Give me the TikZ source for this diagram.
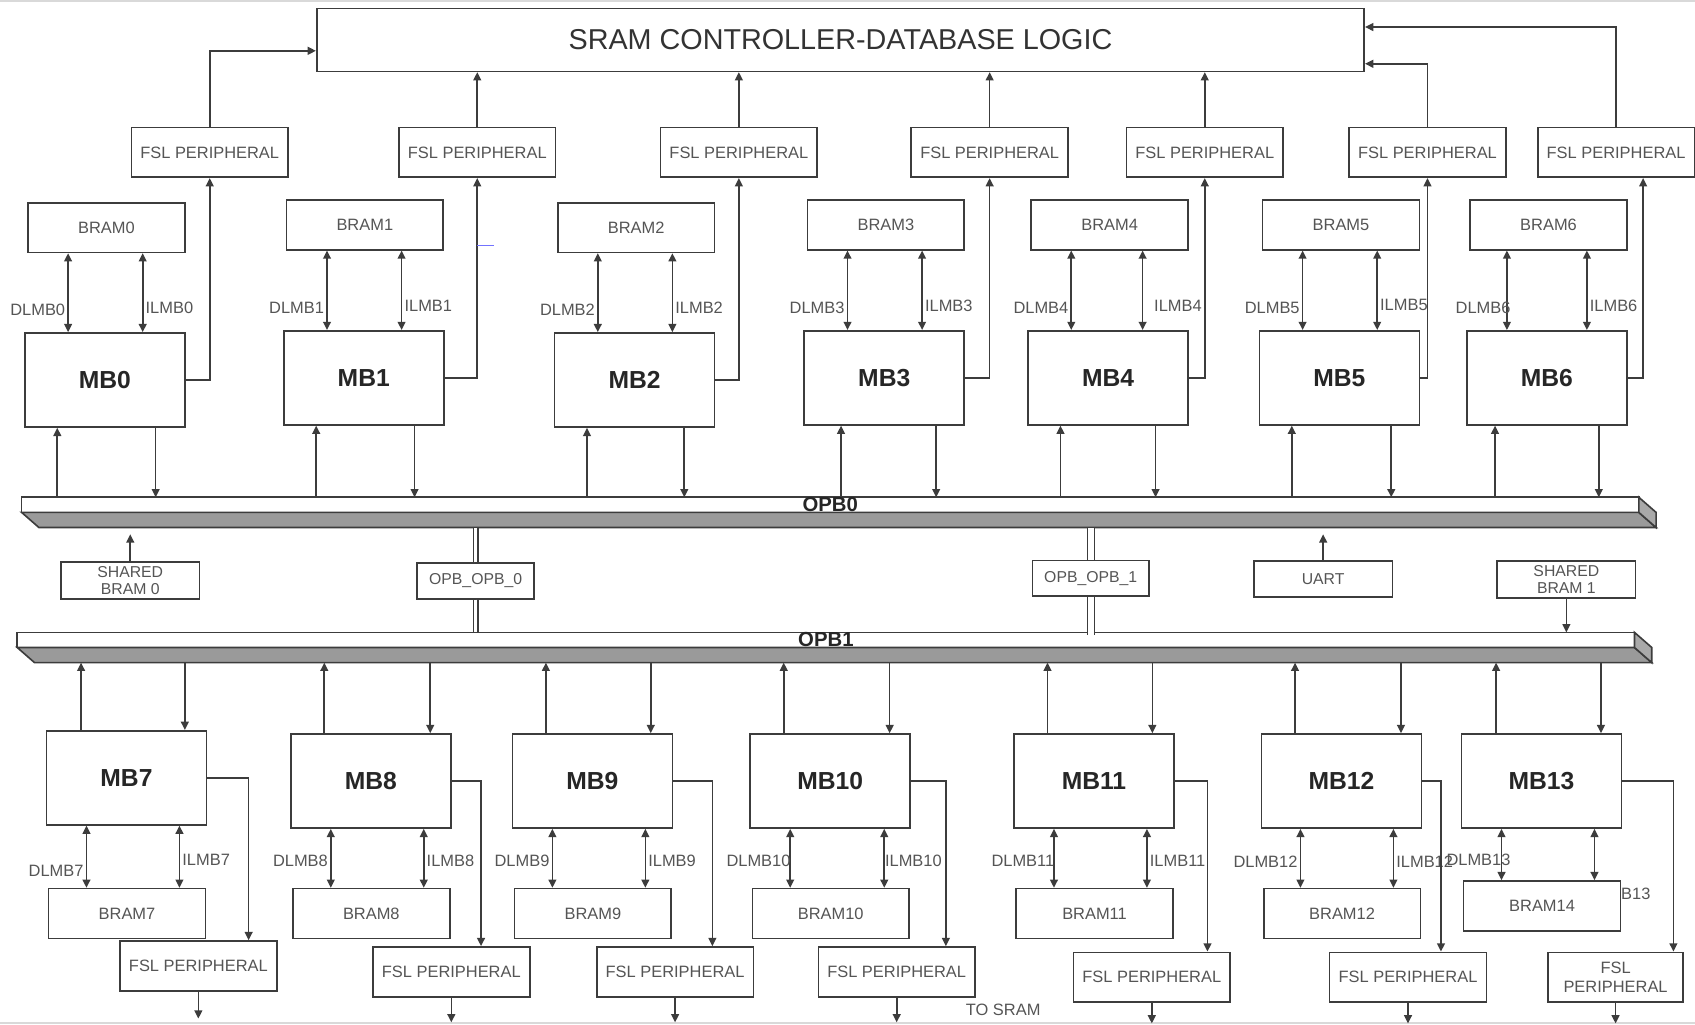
\documentclass[tikz,border=0pt]{standalone}
\usepackage{fontspec}
\setmainfont{Liberation Sans}
\usepackage{tikz}
\usetikzlibrary{arrows.meta,positioning}

\definecolor{linegray}{HTML}{3C3C3C}
\definecolor{textgray}{HTML}{555555}
\definecolor{busgray}{HTML}{9A9A9A}

\begin{document}
\begin{tikzpicture}[x=0.5pt,y=-0.5pt,
   font=\fontsize{7.6}{8.4}\selectfont,
   plainbox/.style={draw=linegray,fill=white,line width=0.75pt,inner sep=0pt,text=textgray},
   fslbox/.style={plainbox,minimum width=72.5pt,minimum height=23pt},
   brambox/.style={plainbox,minimum width=72.5pt,minimum height=23pt},
   mbbox/.style={plainbox,minimum width=74pt,minimum height=43.5pt,text=black!85,
      font=\fontsize{11.4}{13}\selectfont\bfseries},
   smallbox/.style={plainbox,minimum width=64pt,minimum height=17pt,align=center,
      font=\fontsize{7.3}{7.9}\selectfont},
   busface/.style={draw=linegray,fill=white,line width=0.75pt,inner sep=0pt,outer sep=0pt,
      minimum width=748pt,minimum height=7pt,text=black!85,
      font=\fontsize{9.4}{10}\selectfont\bfseries},
   busshade/.style={draw=linegray,fill=busgray,line width=0.75pt},
   lbl/.style={text=textgray,inner sep=1pt},
   conn/.style={draw=linegray,line width=0.75pt,-{Triangle[length=3.8pt,width=3.6pt]}},
   lmb/.style={draw=linegray,line width=0.75pt,
      {Triangle[length=3.8pt,width=3.6pt]}-{Triangle[length=3.8pt,width=3.6pt]}},
   pipe/.style={draw=linegray,line width=0.6pt,double=white,double distance=1.6pt}]

   \fill[white] (0,0) rectangle (1568,948);
   \useasboundingbox (0,0) rectangle (1568,948);
   \draw[gray!30,line width=0.8pt] (0,0.8) -- (1568,0.8);
   \draw[gray!30,line width=0.8pt] (0,946.5) -- (1568,946.5);

   \node[plainbox,minimum width=484.5pt,minimum height=29pt,text=black!80,
      font=\fontsize{13.3}{15}\selectfont] (sram) at (777.5,37) {SRAM CONTROLLER-DATABASE LOGIC};

   \node[fslbox] (fsl0) at (194,141)    {FSL PERIPHERAL};
   \node[fslbox] (fsl1) at (441.5,141)  {FSL PERIPHERAL};
   \node[fslbox] (fsl2) at (683.5,141)  {FSL PERIPHERAL};
   \node[fslbox] (fsl3) at (915.5,141)  {FSL PERIPHERAL};
   \node[fslbox] (fsl4) at (1114.5,141) {FSL PERIPHERAL};
   \node[fslbox] (fsl5) at (1320.5,141) {FSL PERIPHERAL};
   \node[fslbox] (fsl6) at (1495,141)   {FSL PERIPHERAL};

   \node[brambox] (bram0) at (98.5,210.5)  {BRAM0};
   \node[brambox] (bram1) at (337.5,208)   {BRAM1};
   \node[brambox] (bram2) at (588.5,210.5) {BRAM2};
   \node[brambox] (bram3) at (819.5,208)   {BRAM3};
   \node[brambox] (bram4) at (1026.5,208)  {BRAM4};
   \node[brambox] (bram5) at (1240.5,208)  {BRAM5};
   \node[brambox] (bram6) at (1432.5,208)  {BRAM6};

   \node[mbbox] (mb0) at (97,351.5)   {MB0};
   \node[mbbox] (mb1) at (336.5,349.5) {MB1};
   \node[mbbox] (mb2) at (587,351.5)  {MB2};
   \node[mbbox] (mb3) at (818,349.5)  {MB3};
   \node[mbbox] (mb4) at (1025,349.5) {MB4};
   \node[mbbox] (mb5) at (1239,349.5) {MB5};
   \node[mbbox] (mb6) at (1431,349.5) {MB6};

   \node[busface] (opb0) at (768,467) {OPB0};
   \filldraw[busshade] (opb0.south west) -- (opb0.south east) -- ++(16,14) -- ++(-1496,0) -- cycle;
   \filldraw[busshade,fill=busgray!85] (opb0.north east) -- ++(16,14) -- ++(0,14) -- (opb0.south east) -- cycle;
   \path (opb0.south) ++(0,14) coordinate (opb0b);

   \node[smallbox] (shb0) at (120.5,537) {SHARED\\BRAM 0};
   \node[smallbox,minimum width=54pt,minimum height=16.5pt] (bridge0) at (440,537.5) {OPB\_OPB\_0};
   \node[smallbox,minimum width=54pt,minimum height=16.5pt] (bridge1) at (1009,535) {OPB\_OPB\_1};
   \node[smallbox,minimum height=16.5pt] (uart) at (1224,535.5) {UART};
   \node[smallbox] (shb1) at (1449,536) {SHARED\\BRAM 1};

   \node[busface] (opb1) at (764,592) {OPB1};
   \filldraw[busshade] (opb1.south west) -- (opb1.south east) -- ++(16,14) -- ++(-1496,0) -- cycle;
   \filldraw[busshade,fill=busgray!85] (opb1.north east) -- ++(16,14) -- ++(0,14) -- (opb1.south east) -- cycle;
   \path (opb1.south) ++(0,14) coordinate (opb1b);

   \node[mbbox] (mb7)  at (117,719.5)  {MB7};
   \node[mbbox] (mb8)  at (343,722.5)  {MB8};
   \node[mbbox] (mb9)  at (548,722.5)  {MB9};
   \node[mbbox] (mb10) at (768,722.5)  {MB10};
   \node[mbbox] (mb11) at (1012,722.5) {MB11};
   \node[mbbox] (mb12) at (1241,722.5) {MB12};
   \node[mbbox] (mb13) at (1426,722.5) {MB13};

   \node[lbl,anchor=west] (ilmb13) at (1472,827) {ILMB13};

   \node[brambox] (bram7)  at (117.5,845)  {BRAM7};
   \node[brambox] (bram8)  at (343.5,845)  {BRAM8};
   \node[brambox] (bram9)  at (548.5,845)  {BRAM9};
   \node[brambox] (bram10) at (768.5,845)  {BRAM10};
   \node[brambox] (bram11) at (1012.5,845) {BRAM11};
   \node[brambox] (bram12) at (1241.5,845) {BRAM12};
   \node[brambox] (bram14) at (1426.5,838) {BRAM14};

   \node[fslbox] (fsl7)  at (183.5,893.5) {FSL PERIPHERAL};
   \node[fslbox] (fsl8)  at (417.5,899)   {FSL PERIPHERAL};
   \node[fslbox] (fsl9)  at (624.5,899)   {FSL PERIPHERAL};
   \node[fslbox] (fsl10) at (829.5,899)   {FSL PERIPHERAL};
   \node[fslbox] (fsl11) at (1065.5,904)  {FSL PERIPHERAL};
   \node[fslbox] (fsl12) at (1302.5,904)  {FSL PERIPHERAL};
   \node[fslbox,minimum width=62.5pt,align=center] (fsl13) at (1494.5,904) {FSL\\PERIPHERAL};

   \node[lbl] (tosram) at (928,934) {TO SRAM};

   % FSL peripherals to the SRAM controller
   \draw[conn] (fsl0.north) |- ([yshift=-5pt]sram.west);
   \draw[conn] (fsl1.north) -- (fsl1.north |- sram.south);
   \draw[conn] (fsl2.north) -- (fsl2.north |- sram.south);
   \draw[conn] (fsl3.north) -- (fsl3.north |- sram.south);
   \draw[conn] (fsl4.north) -- (fsl4.north |- sram.south);
   \draw[conn] (fsl5.north) |- ([yshift=-11pt]sram.east);
   \draw[conn] (fsl6.north) |- ([yshift=6pt]sram.east);

   \draw[conn] (mb0.east) -| (fsl0.south);
   \draw[conn] (mb1.east) -| (fsl1.south);
   \draw[conn] (mb2.east) -| (fsl2.south);
   \draw[conn] (mb3.east) -| (fsl3.south);
   \draw[conn] (mb4.east) -| (fsl4.south);
   \draw[conn] (mb5.east) -| (fsl5.south);
   \draw[conn] (mb6.east) -| ([xshift=12.5pt]fsl6.south);
   \draw[blue!55,line width=0.6pt] (441.5,227) -- (457,227);

   \draw[lmb] ([xshift=-17pt]mb0.north) -- ([xshift=-17pt]mb0.north |- bram0.south) node[pos=0.28,left,lbl] {DLMB0};
   \draw[lmb] ([xshift=17.5pt]mb0.north) -- ([xshift=17.5pt]mb0.north |- bram0.south) node[pos=0.31,right,lbl] {ILMB0};
   \draw[lmb] ([xshift=-17pt]mb1.north) -- ([xshift=-17pt]mb1.north |- bram1.south) node[pos=0.28,left,lbl] {DLMB1};
   \draw[lmb] ([xshift=17.5pt]mb1.north) -- ([xshift=17.5pt]mb1.north |- bram1.south) node[pos=0.31,right,lbl] {ILMB1};
   \draw[lmb] ([xshift=-17pt]mb2.north) -- ([xshift=-17pt]mb2.north |- bram2.south) node[pos=0.28,left,lbl] {DLMB2};
   \draw[lmb] ([xshift=17.5pt]mb2.north) -- ([xshift=17.5pt]mb2.north |- bram2.south) node[pos=0.31,right,lbl] {ILMB2};
   \draw[lmb] ([xshift=-17pt]mb3.north) -- ([xshift=-17pt]mb3.north |- bram3.south) node[pos=0.28,left,lbl] {DLMB3};
   \draw[lmb] ([xshift=17.5pt]mb3.north) -- ([xshift=17.5pt]mb3.north |- bram3.south) node[pos=0.31,right,lbl] {ILMB3};
   \draw[lmb] ([xshift=-17pt]mb4.north) -- ([xshift=-17pt]mb4.north |- bram4.south) node[pos=0.28,left,lbl] {DLMB4};
   \draw[lmb] ([xshift=16pt]mb4.north) -- ([xshift=16pt]mb4.north |- bram4.south) node[pos=0.31,right,xshift=4pt,lbl] {ILMB4};
   \draw[lmb] ([xshift=-17pt]mb5.north) -- ([xshift=-17pt]mb5.north |- bram5.south) node[pos=0.28,left,lbl] {DLMB5};
   \draw[lmb] ([xshift=17.5pt]mb5.north) -- ([xshift=17.5pt]mb5.north |- bram5.south) node[pos=0.31,right,lbl] {ILMB5};
   \draw[lmb] ([xshift=-18.5pt]mb6.north) -- ([xshift=-18.5pt]mb6.north |- bram6.south) node[pos=0.28,left,xshift=3pt,lbl] {DLMB6};
   \draw[lmb] ([xshift=18.5pt]mb6.north) -- ([xshift=18.5pt]mb6.north |- bram6.south) node[pos=0.31,right,lbl] {ILMB6};

   % MicroBlaze to OPB0
   \draw[conn] ([xshift=-22pt]mb0.south |- opb0.north) -- ([xshift=-22pt]mb0.south);
   \draw[conn] ([xshift=23.5pt]mb0.south) -- ([xshift=23.5pt]mb0.south |- opb0.north);
   \draw[conn] ([xshift=-22pt]mb1.south |- opb0.north) -- ([xshift=-22pt]mb1.south);
   \draw[conn] ([xshift=23.5pt]mb1.south) -- ([xshift=23.5pt]mb1.south |- opb0.north);
   \draw[conn] ([xshift=-22pt]mb2.south |- opb0.north) -- ([xshift=-22pt]mb2.south);
   \draw[conn] ([xshift=23pt]mb2.south) -- ([xshift=23pt]mb2.south |- opb0.north);
   \draw[conn] ([xshift=-20pt]mb3.south |- opb0.north) -- ([xshift=-20pt]mb3.south);
   \draw[conn] ([xshift=24pt]mb3.south) -- ([xshift=24pt]mb3.south |- opb0.north);
   \draw[conn] ([xshift=-22pt]mb4.south |- opb0.north) -- ([xshift=-22pt]mb4.south);
   \draw[conn] ([xshift=22pt]mb4.south) -- ([xshift=22pt]mb4.south |- opb0.north);
   \draw[conn] ([xshift=-22pt]mb5.south |- opb0.north) -- ([xshift=-22pt]mb5.south);
   \draw[conn] ([xshift=24pt]mb5.south) -- ([xshift=24pt]mb5.south |- opb0.north);
   \draw[conn] ([xshift=-24pt]mb6.south |- opb0.north) -- ([xshift=-24pt]mb6.south);
   \draw[conn] ([xshift=24pt]mb6.south) -- ([xshift=24pt]mb6.south |- opb0.north);

   % between the two buses
   \draw[conn] (shb0.north) -- ++(0,-25);
   \draw[conn] (uart.north) -- ++(0,-24);
   \draw[conn] (shb1.south) -- (shb1.south |- opb1.north);
   \draw[pipe] (bridge0.north) -- (bridge0.north |- opb0b);
   \draw[pipe] (bridge0.south) -- (bridge0.south |- opb1.north);
   \draw[pipe,double distance=2.6pt] (bridge1.north) -- (bridge1.north |- opb0b);
   \draw[pipe,double distance=2.6pt] (bridge1.south) -- ([yshift=-1pt]bridge1.south |- opb1.north);

   % OPB1 to MicroBlaze
   \draw[conn] ([xshift=-21pt]mb7.north) -- ([xshift=-21pt]mb7.north |- opb1b);
   \draw[conn] ([xshift=27pt]mb7.north |- opb1b) -- ([xshift=27pt]mb7.north);
   \draw[conn] ([xshift=-21.5pt]mb8.north) -- ([xshift=-21.5pt]mb8.north |- opb1b);
   \draw[conn] ([xshift=27.5pt]mb8.north |- opb1b) -- ([xshift=27.5pt]mb8.north);
   \draw[conn] ([xshift=-21.5pt]mb9.north) -- ([xshift=-21.5pt]mb9.north |- opb1b);
   \draw[conn] ([xshift=27pt]mb9.north |- opb1b) -- ([xshift=27pt]mb9.north);
   \draw[conn] ([xshift=-21.5pt]mb10.north) -- ([xshift=-21.5pt]mb10.north |- opb1b);
   \draw[conn] ([xshift=27.5pt]mb10.north |- opb1b) -- ([xshift=27.5pt]mb10.north);
   \draw[conn] ([xshift=-21.5pt]mb11.north) -- ([xshift=-21.5pt]mb11.north |- opb1b);
   \draw[conn] ([xshift=27pt]mb11.north |- opb1b) -- ([xshift=27pt]mb11.north);
   \draw[conn] ([xshift=-21.5pt]mb12.north) -- ([xshift=-21.5pt]mb12.north |- opb1b);
   \draw[conn] ([xshift=27.5pt]mb12.north |- opb1b) -- ([xshift=27.5pt]mb12.north);
   \draw[conn] ([xshift=-21pt]mb13.north) -- ([xshift=-21pt]mb13.north |- opb1b);
   \draw[conn] ([xshift=27.5pt]mb13.north |- opb1b) -- ([xshift=27.5pt]mb13.north);

   \draw[lmb] ([xshift=-18.5pt]mb7.south) -- ([xshift=-18.5pt]mb7.south |- bram7.north) node[pos=0.73,left,lbl] {DLMB7};
   \draw[lmb] ([xshift=24.5pt]mb7.south) -- ([xshift=24.5pt]mb7.south |- bram7.north) node[pos=0.55,right,lbl] {ILMB7};
   \draw[lmb] ([xshift=-18.5pt]mb8.south) -- ([xshift=-18.5pt]mb8.south |- bram8.north) node[pos=0.55,left,lbl] {DLMB8};
   \draw[lmb] ([xshift=24.5pt]mb8.south) -- ([xshift=24.5pt]mb8.south |- bram8.north) node[pos=0.55,right,lbl] {ILMB8};
   \draw[lmb] ([xshift=-18.5pt]mb9.south) -- ([xshift=-18.5pt]mb9.south |- bram9.north) node[pos=0.55,left,lbl] {DLMB9};
   \draw[lmb] ([xshift=24.5pt]mb9.south) -- ([xshift=24.5pt]mb9.south |- bram9.north) node[pos=0.55,right,lbl] {ILMB9};
   \draw[lmb] ([xshift=-18.5pt]mb10.south) -- ([xshift=-18.5pt]mb10.south |- bram10.north) node[pos=0.55,left,xshift=1.5pt,lbl] {DLMB10};
   \draw[lmb] ([xshift=25pt]mb10.south) -- ([xshift=25pt]mb10.south |- bram10.north) node[pos=0.55,right,xshift=-1pt,lbl] {ILMB10};
   \draw[lmb] ([xshift=-18.5pt]mb11.south) -- ([xshift=-18.5pt]mb11.south |- bram11.north) node[pos=0.55,left,xshift=1.5pt,lbl] {DLMB11};
   \draw[lmb] ([xshift=24.5pt]mb11.south) -- ([xshift=24.5pt]mb11.south |- bram11.north) node[pos=0.55,right,lbl] {ILMB11};
   \draw[lmb] ([xshift=-19pt]mb12.south) -- ([xshift=-19pt]mb12.south |- bram12.north) node[pos=0.55,left,lbl] {DLMB12};
   \draw[lmb] ([xshift=24pt]mb12.south) -- ([xshift=24pt]mb12.south |- bram12.north) node[pos=0.55,right,lbl] {ILMB12};
   \draw[lmb] ([xshift=-18.5pt]mb13.south) -- ([xshift=-18.5pt]mb13.south |- bram14.north) node[pos=0.6,left,xshift=5.5pt,lbl] {DLMB13};
   \draw[lmb] ([xshift=24.5pt]mb13.south) -- ([xshift=24.5pt]mb13.south |- bram14.north);

   % MicroBlaze to the lower FSL peripherals
   \draw[conn] (mb7.east)  -| ([xshift=23.25pt]fsl7.north);
   \draw[conn] (mb8.east)  -| ([xshift=13.75pt]fsl8.north);
   \draw[conn] (mb9.east)  -| ([xshift=17.25pt]fsl9.north);
   \draw[conn] (mb10.east) -| ([xshift=22.75pt]fsl10.north);
   \draw[conn] (mb11.east) -| ([xshift=25.75pt]fsl11.north);
   \draw[conn] (mb12.east) -| ([xshift=15.25pt]fsl12.north);
   \draw[conn] (mb13.east) -| ([xshift=26.75pt]fsl13.north);

   \draw[conn] (fsl7.south)  -- ++(0,25);
   \draw[conn] (fsl8.south)  -- ++(0,23);
   \draw[conn] (fsl9.south)  -- ++(0,23);
   \draw[conn] (fsl10.south) -- ++(0,23);
   \draw[conn] (fsl11.south) -- ++(0,19);
   \draw[conn] (fsl12.south) -- ++(0,19);
   \draw[conn] (fsl13.south) -- ++(0,19);
\end{tikzpicture}
\end{document}
